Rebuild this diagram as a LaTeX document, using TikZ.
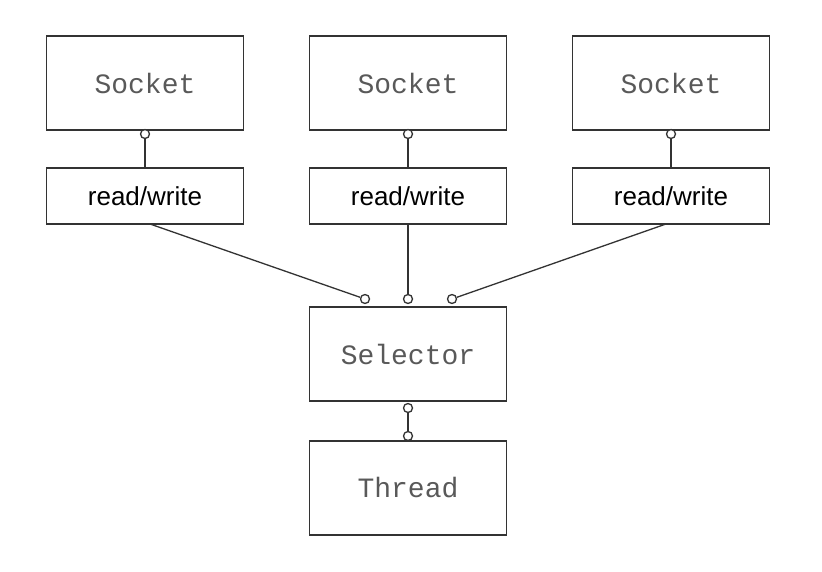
\documentclass[tikz,border=0pt]{standalone}
\usepackage{fontspec}
\newfontfamily\monof{Liberation Mono}
\newfontfamily\sansf{Liberation Sans}
\begin{document}
\begin{tikzpicture}[x=1pt,y=-1pt,
  big/.style={draw=black!80,line width=1.3pt,minimum width=197pt,minimum height=94pt,inner sep=0pt,font=\monof\fontsize{28}{30}\selectfont,text=black!65},
  rw/.style={draw=black!80,line width=1.3pt,minimum width=197pt,minimum height=56pt,inner sep=0pt,font=\sansf\fontsize{26}{28}\selectfont},
  ln/.style={draw=black!80,line width=1.3pt},
  dot/.style={circle,draw=black!80,line width=1.3pt,fill=white,minimum size=9pt,inner sep=0pt}]
\useasboundingbox (0,0) rectangle (822,572);
\foreach \i/\x in {a/145,b/408,c/671}{
  \node[big] (s\i) at (\x,83) {Socket};
  \node[rw] (r\i) at (\x,196) {read/write};
  \node[dot] (ds\i) at (\x,134) {};
  \draw[ln] (ds\i) -- (r\i.north);
}
\node[big] (sel) at (408,354) {Selector};
\node[big] (thr) at (408,488) {Thread};
\node[dot] (d1) at (365,299) {};
\node[dot] (d2) at (408,299) {};
\node[dot] (d3) at (452,299) {};
\draw[ln] (150,224) -- (d1);
\draw[ln] (rb.south) -- (d2);
\draw[ln] (666,224) -- (d3);
\node[dot] (e1) at (408,408) {};
\node[dot] (e2) at (408,436) {};
\draw[ln] (e1) -- (e2);
\end{tikzpicture}
\end{document}
